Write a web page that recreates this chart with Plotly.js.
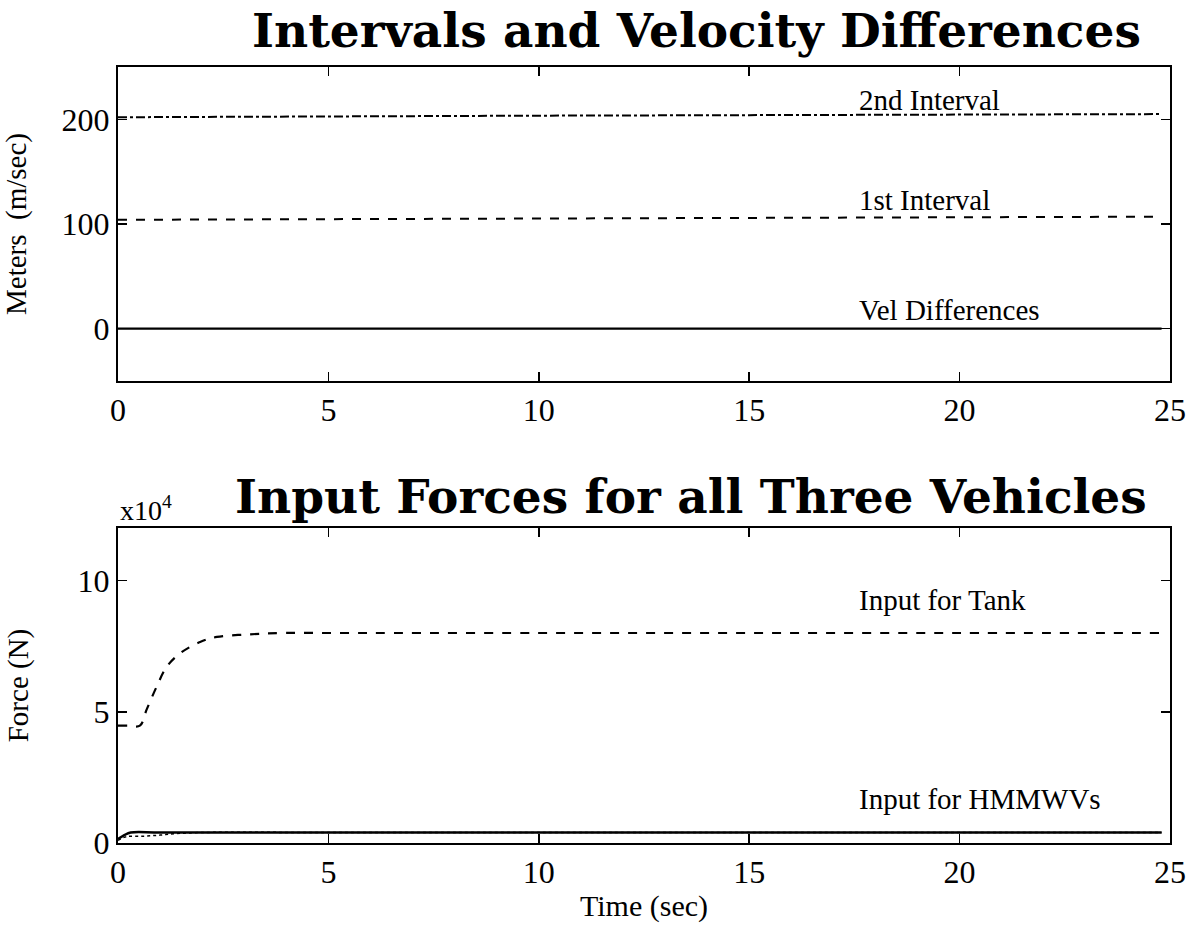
<!DOCTYPE html>
<html>
<head>
<meta charset="utf-8">
<script src="https://cdn.plot.ly/plotly-3.0.1.min.js"></script>
<style>html,body{margin:0;padding:0;background:#fff;}#chart{width:1197px;height:932px;}</style>
</head>
<body>
<div id="chart"></div>
<script>
// ---- Data: top panel (Intervals and Velocity Differences) ----
const timeTop = [0, 5, 10, 15, 20, 24.8];
const interval2 = [202, 203, 203.5, 204, 204.5, 205];
const interval1 = [104, 104.5, 105, 105.5, 106.5, 107];
const velDiff = [0, 0, 0, 0, 0, 0];

// ---- Data: bottom panel (Input Forces, N) ----
const tankTime = [0, 0.25, 0.52, 0.68, 0.92, 1.16, 1.48, 1.95, 2.35, 3.14, 3.9, 5, 10, 15, 20, 24.8];
const tankForce = [44700, 44700, 44700, 50800, 59600, 67200, 72300, 76600, 78500, 79500, 80000, 80000, 80000, 80000, 80000, 80000];
const hmmwv1Time = [0, 0.15, 0.3, 1, 5, 10, 15, 20, 24.8];
const hmmwv1Force = [1500, 3000, 4000, 4000, 4000, 4000, 4000, 4000, 4000];
const hmmwv2Time = [0, 0.2, 0.6, 1.0, 1.4, 2.0, 5, 10, 24.8];
const hmmwv2Force = [1000, 2400, 2600, 3000, 3600, 4000, 4000, 4000, 4000];

const xTicks = [0, 5, 10, 15, 20, 25];
const topYTicks = [0, 100, 200];
const botYTickVals = [0, 50000, 100000];
const botYTickText = ['0', '5', '10'];

const serif = 'Liberation Serif, Times New Roman, serif';
const titleFont = 'DejaVu Serif, serif';
const blk = '#000';

const traces = [
  {x: timeTop, y: interval2, xaxis: 'x', yaxis: 'y', mode: 'lines', line: {color: blk, width: 2, dash: 'dashdot'}},
  {x: timeTop, y: interval1, xaxis: 'x', yaxis: 'y', mode: 'lines', line: {color: blk, width: 2, dash: 'dash'}},
  {x: timeTop, y: velDiff, xaxis: 'x', yaxis: 'y', mode: 'lines', line: {color: blk, width: 2.2}},
  {x: tankTime, y: tankForce, xaxis: 'x2', yaxis: 'y2', mode: 'lines', line: {color: blk, width: 2.2, dash: 'dash', shape: 'spline'}},
  {x: hmmwv2Time, y: hmmwv2Force, xaxis: 'x2', yaxis: 'y2', mode: 'lines', line: {color: blk, width: 1.5, dash: 'dot', shape: 'spline'}},
  {x: hmmwv1Time, y: hmmwv1Force, xaxis: 'x2', yaxis: 'y2', mode: 'lines', line: {color: blk, width: 2.4, shape: 'spline'}}
];

const axCommon = {
  showgrid: false, zeroline: false, showline: true, linecolor: blk, linewidth: 2,
  mirror: 'ticks', ticks: 'inside', ticklen: 9, tickwidth: 1.5, tickcolor: blk,
  tickfont: {family: serif, size: 32, color: blk}
};

const layout = {
  width: 1197, height: 932,
  paper_bgcolor: '#fff', plot_bgcolor: '#fff',
  showlegend: false,
  margin: {l: 118, r: 27, t: 67, b: 89},
  xaxis: Object.assign({}, axCommon, {domain: [0, 1], range: [0, 25], tickvals: xTicks, anchor: 'y'}),
  yaxis: Object.assign({}, axCommon, {domain: [0.5954, 1], range: [-50, 250], tickvals: topYTicks, anchor: 'x',
    title: {text: 'Meters  (m/sec)', font: {family: serif, size: 29, color: blk}, standoff: 28}}),
  xaxis2: Object.assign({}, axCommon, {domain: [0, 1], range: [0, 25], tickvals: xTicks, anchor: 'y2',
    title: {text: 'Time (sec)', font: {family: serif, size: 30, color: blk}, standoff: 6}}),
  yaxis2: Object.assign({}, axCommon, {domain: [0, 0.4059], range: [0, 120000], tickvals: botYTickVals, ticktext: botYTickText, anchor: 'x2',
    title: {text: 'Force (N)', font: {family: serif, size: 29, color: blk}, standoff: 40}}),
  annotations: [
    {text: 'Intervals and Velocity Differences', xref: 'paper', yref: 'paper', x: 0.55, y: 1, yshift: 37, xanchor: 'center', yanchor: 'middle', showarrow: false, font: {family: titleFont, size: 47, weight: 'bold', color: blk}},
    {text: 'Input Forces for all Three Vehicles', xref: 'paper', yref: 'paper', x: 0.545, y: 0.4059, yshift: 32, xanchor: 'center', yanchor: 'middle', showarrow: false, font: {family: titleFont, size: 47, weight: 'bold', color: blk}},
    {text: 'x10<sup>4</sup>', xref: 'paper', yref: 'paper', x: 0, y: 0.4059, xanchor: 'left', yanchor: 'bottom', showarrow: false, font: {family: serif, size: 28, color: blk}},
    {text: '2nd Interval', xref: 'x', yref: 'y', x: 17.55, y: 218, xanchor: 'left', yanchor: 'middle', showarrow: false, font: {family: serif, size: 29, color: blk}},
    {text: '1st Interval', xref: 'x', yref: 'y', x: 17.55, y: 123, xanchor: 'left', yanchor: 'middle', showarrow: false, font: {family: serif, size: 29, color: blk}},
    {text: 'Vel Differences', xref: 'x', yref: 'y', x: 17.55, y: 18, xanchor: 'left', yanchor: 'middle', showarrow: false, font: {family: serif, size: 29, color: blk}},
    {text: 'Input for Tank', xref: 'x2', yref: 'y2', x: 17.55, y: 92400, xanchor: 'left', yanchor: 'middle', showarrow: false, font: {family: serif, size: 29, color: blk}},
    {text: 'Input for HMMWVs', xref: 'x2', yref: 'y2', x: 17.55, y: 16700, xanchor: 'left', yanchor: 'middle', showarrow: false, font: {family: serif, size: 29, color: blk}}
  ]
};

Plotly.newPlot('chart', traces, layout, {displayModeBar: false, staticPlot: true});
</script>
</body>
</html>
